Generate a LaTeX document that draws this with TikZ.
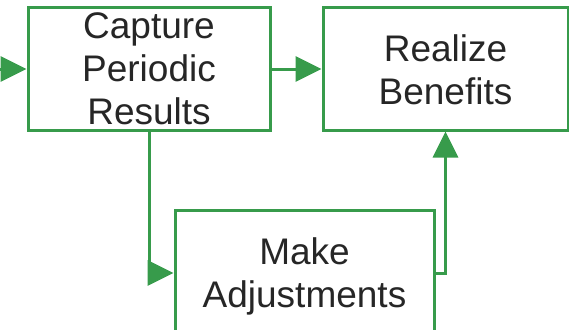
\documentclass[tikz,border=0pt]{standalone}
\usepackage{fontspec}
\setmainfont{Liberation Sans}
\usetikzlibrary{arrows.meta}
\definecolor{grn}{HTML}{379B4B}
\definecolor{txt}{HTML}{262626}
\tikzset{
  box/.style={draw=grn, line width=3pt, fill=white, inner sep=0pt},
  lbl/.style={align=center, text=txt, font=\fontsize{37}{43}\selectfont, inner sep=0pt, anchor=base},
  arr/.style={draw=grn, line width=3pt, -{Triangle[length=26pt,width=25pt]}}
}
\begin{document}
\begin{tikzpicture}[x=1pt,y=-1pt]
\useasboundingbox (0,0) rectangle (569,329);
\clip (0,0) rectangle (569,329);
\node[box, minimum width=242pt, minimum height=122pt] (cap) at (149,69) {};
\node[box, minimum width=245pt, minimum height=122pt] (real) at (445.5,69) {};
\node[box, minimum width=259pt, minimum height=126pt] (adj) at (304.5,273) {};
\node[lbl] (capt) at (149,124) {Capture\\Periodic\\Results};
\node[lbl] (realt) at (445.5,104) {Realize\\Benefits};
\node[lbl] (adjt) at (304.5,307) {Make\\Adjustments};
\coordinate (in) at (-20,69);
\draw[arr] (in) -- (cap.west);
\draw[arr] (cap.east) -- (real.west);
\draw[arr] (cap.south) -- (cap.south |- adj.west) -- (adj.west);
\draw[arr] (adj.east) -| (real.south);
\end{tikzpicture}
\end{document}
